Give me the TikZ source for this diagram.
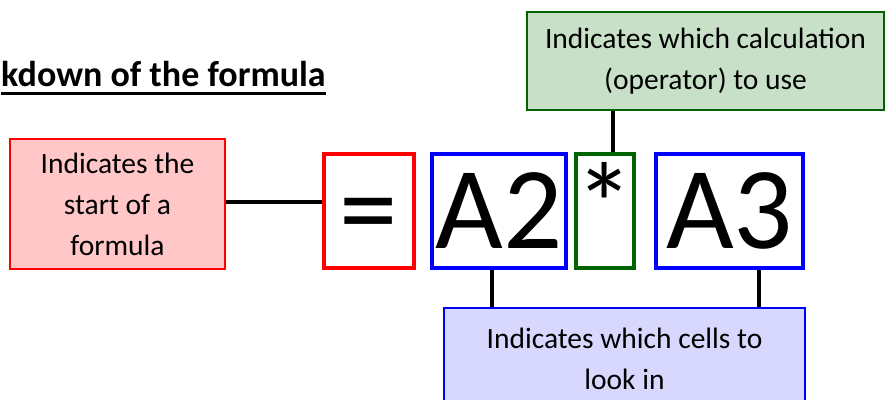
\documentclass[tikz,border=0pt]{standalone}
\usepackage{fontspec}
\setmainfont{Carlito}
\usetikzlibrary{positioning}

\definecolor{boxred}{RGB}{255,0,0}
\definecolor{boxblue}{RGB}{0,0,255}
\definecolor{boxgreen}{RGB}{0,100,0}
\definecolor{fillred}{RGB}{255,199,199}
\definecolor{fillgreen}{RGB}{200,224,200}
\definecolor{fillblue}{RGB}{216,216,255}

\begin{document}
\begin{tikzpicture}[x=1pt, y=-1pt,
  note/.style={draw, line width=1.5pt, inner sep=0pt, align=center,
    font=\fontsize{29.5}{41}\selectfont},
  part/.style={draw, line width=4pt, inner sep=0pt, minimum height=114pt,
    font=\fontsize{117}{117}\selectfont},
  link/.style={line width=4pt}]

\clip (0,0) rectangle (885,399);

% Title
\node[anchor=base west, inner sep=0pt, font=\fontsize{36}{36}\selectfont\bfseries]
  (title) at (1,86) {kdown of the formula};
\draw[line width=3pt] ([yshift=-7pt]title.base west) -- ([yshift=-7pt]title.base east);

% Formula parts
\node[part, boxred, text=black, minimum width=90pt] (eq) at (369,211) {\vphantom{A2}=};
\node[part, boxblue, text=black, minimum width=134pt] (a2) at (499,211) {A2};
\node[part, boxgreen, text=black, minimum width=58pt] (star) at (605,211) {\vphantom{A2}\raisebox{14pt}{*}};
\node[part, boxblue, text=black, minimum width=147pt] (a3) at (729.5,211) {A3};

% Notes
\node[note, draw=boxred, fill=fillred, minimum width=215pt, minimum height=130pt]
  (start) at (117.5,204) {\raisebox{-4pt}{\parbox{200pt}{\centering Indicates the\\start of a\\formula}}};
\node[note, draw=boxgreen, fill=fillgreen, minimum width=357pt, minimum height=98pt]
  (calc) at (705.5,61) {Indicates which calculation\\(operator) to use};
\node[note, draw=boxblue, fill=fillblue, minimum width=361pt, minimum height=102pt]
  (cells) at (624.5,359) {Indicates which cells to\\look in};

% Connectors
\draw[link] ([yshift=2pt]start.east) -- ([yshift=2pt]start.east -| eq.west);
\draw[link] ([xshift=8pt]star.north) -- ([xshift=8pt]star.north |- calc.south);
\draw[link] ([xshift=-7pt]a2.south) -- ([xshift=-7pt]a2.south |- cells.north);
\draw[link] ([xshift=29.5pt]a3.south) -- ([xshift=29.5pt]a3.south |- cells.north);

\end{tikzpicture}
\end{document}
